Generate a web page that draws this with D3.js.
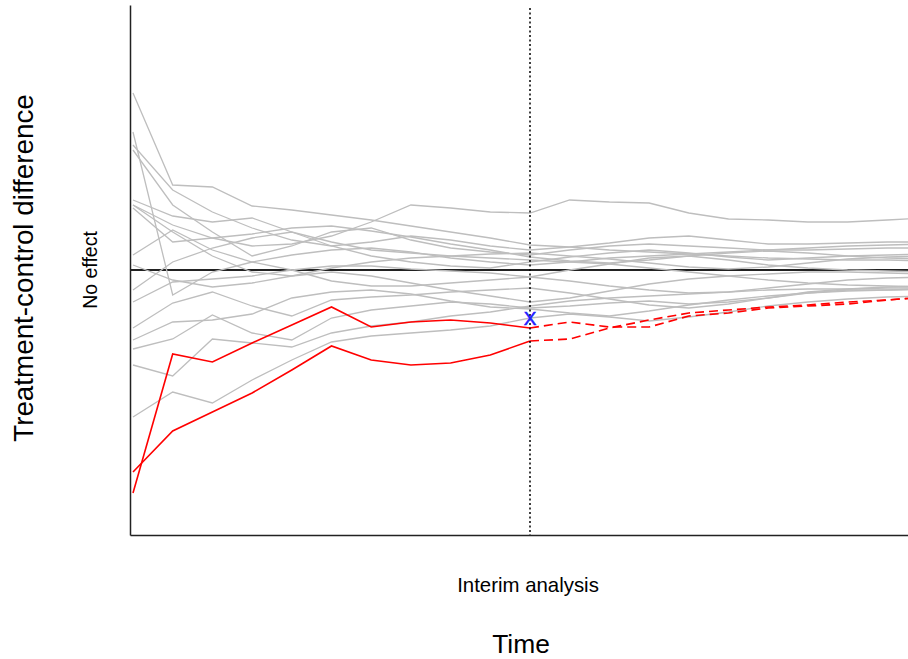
<!DOCTYPE html>
<html>
<head>
<meta charset="utf-8">
<script src="https://cdn.jsdelivr.net/npm/d3@7"></script>
<style>
  html, body { margin: 0; padding: 0; background: #fff; }
  svg { display: block; font-family: "Liberation Sans", Arial, sans-serif; }
</style>
</head>
<body>
<svg id="chart" width="908" height="659"></svg>
<script>
// time points (equally spaced looks), interim look at t = 10
const timePoints = d3.range(0, 21);
const interimTime = 10;
const interimEstimate = -0.48;

// simulated trial trajectories (grey)
const greyPaths = [
  [1.77, 0.85, 0.83, 0.64, 0.60, 0.55, 0.50, 0.44, 0.38, 0.32, 0.25, 0.23, 0.20, 0.18, 0.16, 0.14, 0.12, 0.11, 0.10, 0.10, 0.09],
  [0.65, 0.45, 0.32, 0.24, 0.26, 0.34, 0.48, 0.65, 0.62, 0.58, 0.57, 0.70, 0.68, 0.67, 0.57, 0.51, 0.50, 0.48, 0.48, 0.50, 0.52],
  [1.38, -0.25, -0.02, 0.08, 0.15, 0.20, 0.22, 0.18, 0.12, 0.08, 0.05, 0.08, 0.12, 0.14, 0.16, 0.18, 0.20, 0.22, 0.24, 0.25, 0.26],
  [1.25, 0.80, 0.58, 0.42, 0.30, 0.24, 0.28, 0.34, 0.30, 0.24, 0.20, 0.23, 0.27, 0.32, 0.34, 0.30, 0.26, 0.26, 0.27, 0.28, 0.28],
  [1.20, 0.65, 0.38, 0.14, 0.24, 0.38, 0.42, 0.30, 0.22, 0.18, 0.15, 0.20, 0.24, 0.26, 0.24, 0.22, 0.20, 0.20, 0.21, 0.22, 0.22],
  [0.70, 0.54, 0.48, 0.52, 0.38, 0.24, 0.14, 0.08, 0.04, 0.02, 0.08, 0.13, 0.17, 0.20, 0.17, 0.13, 0.10, 0.12, 0.14, 0.15, 0.16],
  [0.65, 0.38, 0.14, -0.02, -0.06, 0.02, 0.08, 0.12, 0.14, 0.16, 0.17, 0.14, 0.11, 0.07, 0.03, 0.01, 0.03, 0.07, 0.11, 0.13, 0.14],
  [0.62, 0.28, 0.32, 0.36, 0.42, 0.44, 0.39, 0.33, 0.26, 0.20, 0.13, 0.09, 0.07, 0.10, 0.14, 0.17, 0.19, 0.17, 0.14, 0.12, 0.11],
  [0.15, 0.40, 0.20, 0.08, 0.00, -0.11, -0.16, -0.16, -0.13, -0.10, -0.07, 0.00, 0.06, 0.12, 0.14, 0.10, 0.05, 0.02, 0.00, -0.01, -0.02],
  [0.05, -0.10, -0.17, -0.13, -0.06, -0.02, -0.06, -0.13, -0.20, -0.26, -0.32, -0.28, -0.21, -0.14, -0.09, -0.06, -0.04, -0.02, -0.02, -0.03, -0.04],
  [-0.20, 0.08, 0.22, 0.32, 0.38, 0.28, 0.20, 0.17, 0.14, 0.12, 0.10, 0.08, 0.06, 0.02, -0.02, -0.06, -0.10, -0.13, -0.15, -0.16, -0.17],
  [-0.32, -0.12, -0.09, -0.06, 0.00, 0.04, 0.04, 0.01, -0.01, -0.03, -0.07, -0.11, -0.16, -0.20, -0.23, -0.22, -0.18, -0.14, -0.10, -0.08, -0.07],
  [-0.58, -0.33, -0.22, -0.36, -0.46, -0.30, -0.27, -0.25, -0.22, -0.20, -0.18, -0.23, -0.29, -0.35, -0.38, -0.34, -0.28, -0.22, -0.19, -0.17, -0.16],
  [-0.79, -0.69, -0.45, -0.63, -0.70, -0.48, -0.40, -0.36, -0.32, -0.34, -0.38, -0.36, -0.33, -0.31, -0.34, -0.32, -0.28, -0.23, -0.20, -0.20, -0.19],
  [-0.95, -1.06, -0.69, -0.73, -0.77, -0.63, -0.56, -0.52, -0.46, -0.42, -0.36, -0.31, -0.28, -0.26, -0.24, -0.22, -0.20, -0.19, -0.19, -0.18, -0.18],
  [-1.47, -1.22, -1.33, -1.10, -0.90, -0.72, -0.66, -0.63, -0.60, -0.56, -0.48, -0.44, -0.47, -0.51, -0.47, -0.42, -0.36, -0.32, -0.29, -0.27, -0.26],
  [-0.70, -0.52, -0.50, -0.44, -0.28, -0.22, -0.20, -0.24, -0.31, -0.37, -0.39, -0.43, -0.46, -0.41, -0.35, -0.30, -0.26, -0.23, -0.21, -0.20, -0.19]
];

// highlighted trials (red): observed up to interim, projected afterwards
const redPaths = [
  [-2.23, -0.84, -0.92, -0.73, -0.55, -0.37, -0.57, -0.52, -0.50, -0.53, -0.58, -0.52, -0.57, -0.57, -0.46, -0.43, -0.38, -0.36, -0.34, -0.30, -0.27],
  [-2.02, -1.61, -1.42, -1.23, -1.00, -0.76, -0.90, -0.95, -0.93, -0.85, -0.71, -0.69, -0.58, -0.50, -0.43, -0.40, -0.37, -0.35, -0.32, -0.30, -0.27]
];

const svg = d3.select('#chart');
const margin = { left: 130, right: 912, top: 5, bottom: 535 };

const x = d3.scaleLinear().domain([0, 20]).range([133, 927]);
const y = d3.scaleLinear().domain([-2.65, 2.65]).range([margin.bottom, margin.top]);

svg.append('rect').attr('width', 908).attr('height', 659).attr('fill', '#fff');

svg.append('clipPath').attr('id', 'plotClip')
  .append('rect')
  .attr('x', margin.left).attr('y', margin.top)
  .attr('width', margin.right - margin.left)
  .attr('height', margin.bottom - margin.top);

const plot = svg.append('g').attr('clip-path', 'url(#plotClip)');

// no effect line
plot.append('line')
  .attr('x1', margin.left).attr('x2', margin.right)
  .attr('y1', y(0)).attr('y2', y(0))
  .attr('stroke', '#222').attr('stroke-width', 1.8);

const line = d3.line()
  .x((d, i) => x(timePoints[i]))
  .y(d => y(d));

plot.selectAll('.grey')
  .data(greyPaths)
  .enter().append('path')
  .attr('class', 'grey')
  .attr('d', line)
  .attr('fill', 'none')
  .attr('stroke', '#bebebe')
  .attr('stroke-width', 1.3);

// red: solid up to interim, dashed afterwards
redPaths.forEach(vals => {
  plot.append('path')
    .attr('d', line.defined((d, i) => i <= interimTime)(vals))
    .attr('fill', 'none').attr('stroke', '#ff0000').attr('stroke-width', 1.6);
  plot.append('path')
    .attr('d', line.defined((d, i) => i >= interimTime)(vals))
    .attr('fill', 'none').attr('stroke', '#ff0000').attr('stroke-width', 1.6)
    .attr('stroke-dasharray', '9,5');
  line.defined(() => true);
});

// interim analysis marker
plot.append('line')
  .attr('x1', x(interimTime)).attr('x2', x(interimTime))
  .attr('y1', margin.top + 3).attr('y2', margin.bottom)
  .attr('stroke', '#000').attr('stroke-width', 1.5)
  .attr('stroke-dasharray', '2,2.5');

svg.append('text')
  .attr('x', x(interimTime)).attr('y', y(interimEstimate) + 7)
  .attr('text-anchor', 'middle')
  .attr('font-size', 19)
  .attr('fill', '#2020ff')
  .attr('stroke', '#2020ff').attr('stroke-width', 0.5)
  .text('X');

// axes (bare lines, no ticks)
const xAxisScale = d3.scaleLinear().range([margin.left, margin.right]);
svg.append('g')
  .attr('transform', `translate(0,${margin.bottom})`)
  .call(d3.axisBottom(xAxisScale).tickValues([]).tickSizeOuter(0))
  .select('.domain').attr('stroke', '#222').attr('stroke-width', 1.5);

svg.append('g')
  .attr('transform', `translate(${margin.left},0)`)
  .call(d3.axisLeft(y).tickValues([]).tickSizeOuter(0))
  .select('.domain').attr('stroke', '#222').attr('stroke-width', 1.5);

// labels
svg.append('text')
  .attr('x', 528).attr('y', 592)
  .attr('text-anchor', 'middle').attr('font-size', 20.4)
  .text('Interim analysis');

svg.append('text')
  .attr('x', 521).attr('y', 653)
  .attr('text-anchor', 'middle').attr('font-size', 26.4)
  .text('Time');

svg.append('text')
  .attr('transform', 'translate(33,268) rotate(-90)')
  .attr('text-anchor', 'middle').attr('font-size', 27.8)
  .text('Treatment-control difference');

svg.append('text')
  .attr('transform', `translate(97,${y(0)}) rotate(-90)`)
  .attr('text-anchor', 'middle').attr('font-size', 19.5)
  .text('No effect');
</script>
</body>
</html>
